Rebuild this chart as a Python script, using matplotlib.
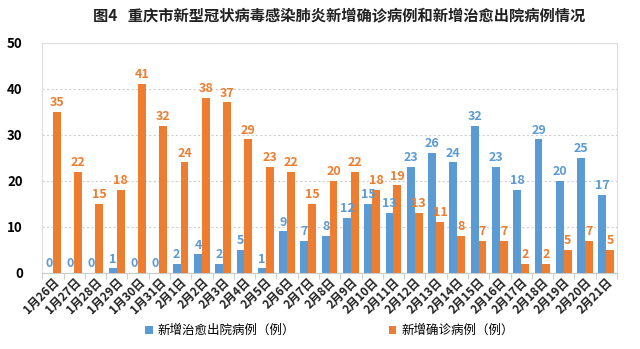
import matplotlib.pyplot as plt
import numpy as np

plt.rcParams['font.family'] = ['Noto Sans CJK SC', 'DejaVu Sans']

dates = ['1月26日', '1月27日', '1月28日', '1月29日', '1月30日', '1月31日', '2月1日',
         '2月2日', '2月3日', '2月4日', '2月5日', '2月6日', '2月7日', '2月8日', '2月9日',
         '2月10日', '2月11日', '2月12日', '2月13日', '2月14日', '2月15日', '2月16日',
         '2月17日', '2月18日', '2月19日', '2月20日', '2月21日']
discharged = [0, 0, 0, 1, 0, 0, 2, 4, 2, 5, 1, 9, 7, 8, 12, 15, 13, 23, 26, 24, 32,
              23, 18, 29, 20, 25, 17]
confirmed = [35, 22, 15, 18, 41, 32, 24, 38, 37, 29, 23, 22, 15, 20, 22, 18, 19, 13,
             11, 8, 7, 7, 2, 2, 5, 7, 5]

blue = '#5B9BD5'
orange = '#ED7D31'

fig = plt.figure(figsize=(6.4, 3.49), dpi=100)
ax = fig.add_axes([0.066, 0.218, 0.898, 0.66])

x = np.arange(len(dates))
w = 0.37
b1 = ax.bar(x - w / 2, discharged, w, color=blue, label='新增治愈出院病例（例）', zorder=3)
b2 = ax.bar(x + w / 2, confirmed, w, color=orange, label='新增确诊病例（例）', zorder=3)
ax.bar_label(b1, padding=2, color=blue, fontsize=9, fontweight='bold')
ax.bar_label(b2, padding=2, color=orange, fontsize=9, fontweight='bold')

ax.set_ylim(0, 50)
ax.set_xlim(-0.5, len(dates) - 0.5)
ax.set_yticks(range(0, 51, 10))
ax.yaxis.grid(True, linestyle=(0, (2, 2)), color='#d0d0d0', linewidth=0.8, zorder=0)
ax.tick_params(axis='y', length=0, labelsize=9.5, pad=14)
for t in ax.get_yticklabels():
    t.set_fontweight('bold')

# category ticks sit on the group boundaries, labels at group centres
ax.set_xticks(np.arange(-0.5, len(dates)), minor=False)
ax.set_xticklabels([])
ax.tick_params(axis='x', length=4, color='#d0d0d0')
ax.set_xticks(x, minor=True)
ax.set_xticklabels(dates, minor=True, rotation=45, ha='right', rotation_mode='anchor',
                   fontsize=8.5, fontweight='bold', color='#222222')
ax.tick_params(axis='x', which='minor', length=0, pad=2)

for s in ax.spines.values():
    s.set_color('#dddddd')
    s.set_linewidth(0.8)
ax.spines['bottom'].set_color('#cccccc')

ax.legend(loc='center', bbox_to_anchor=(0.5, -0.25), ncol=2, frameon=False,
          fontsize=9, handlelength=0.6, handleheight=0.6, columnspacing=7.5,
          handletextpad=0.4)

fig.text(0.53, 0.955, '图4   重庆市新型冠状病毒感染肺炎新增确诊病例和新增治愈出院病例情况',
         ha='center', va='center', fontsize=11, fontweight='bold', color='#222222')

fig.savefig('out.png', dpi=100)
